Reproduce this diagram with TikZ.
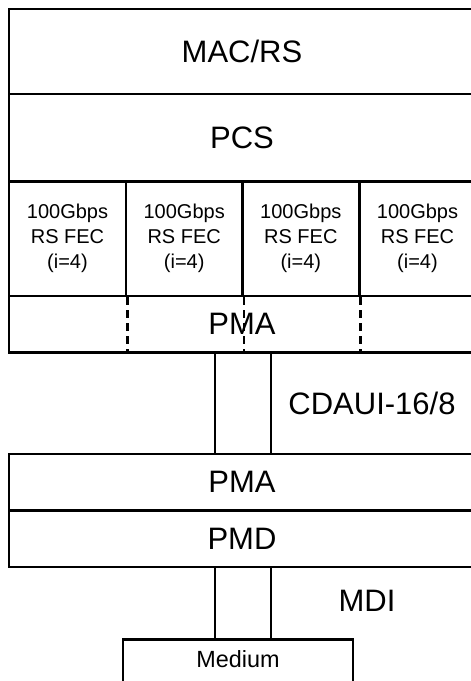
\documentclass[tikz,border=0pt]{standalone}
\usepackage{fontspec}
\setmainfont{Liberation Sans}
\usetikzlibrary{positioning, calc}

\begin{document}
\begin{tikzpicture}[
  x=0.5pt, y=-0.5pt,
  layer/.style={draw, line width=1.3pt, minimum width=233pt,
    inner sep=0pt, font=\fontsize{15.5}{18}\selectfont},
  fecbox/.style={draw, line width=1.3pt, minimum width=58.4pt,
    minimum height=57.25pt, inner sep=0pt, align=center,
    font=\fontsize{10}{12.5}\selectfont},
  link/.style={line width=1.3pt},
  split/.style={line width=1.3pt, dash pattern=on 4pt off 2.5pt},
  iflabel/.style={font=\fontsize{15.5}{18}\selectfont},
]

% ── Frame ────────────────────────────────────────────────
\useasboundingbox (0,0) rectangle (471,681);

% ── Upper stack ──────────────────────────────────────────
\node[layer, minimum height=42.5pt] (macrs) at (242,51.5) {MAC/RS};
\node[layer, minimum height=43.75pt] (pcs) at (242,137.75) {PCS};

% four FEC lanes
\foreach \i/\cx in {1/67.5, 2/184.2, 3/300.8, 4/417.5} {
  \node[fecbox] (fec\i) at (\cx,238.75) {100Gbps\\RS FEC\\(i=4)};
}

\node[layer, minimum height=28.25pt] (pmaup) at (242,324.25) {PMA};

% lane boundaries carried into the PMA
\foreach \i in {1,2,3} {
  \draw[split] (fec\i.south east) -- (fec\i.south east |- pmaup.south);
}

% ── Lower stack ──────────────────────────────────────────
\node[layer, minimum height=28.25pt] (pmalow) at (242,482.25) {PMA};
\node[layer, minimum height=28.25pt] (pmd) at (242,538.75) {PMD};

\node[draw, line width=1.3pt, minimum width=115pt, inner sep=0pt,
  text height=14pt, text depth=17pt, anchor=north,
  font=\fontsize{11.7}{14}\selectfont] (med) at (238,638) {Medium};

% ── Interfaces ───────────────────────────────────────────
\coordinate (la) at (215,0);
\coordinate (lb) at (271,0);

\draw[link] (pmaup.south -| la) -- (pmalow.north -| la);
\draw[link] (pmaup.south -| lb) -- (pmalow.north -| lb);
\draw[link] (pmd.south -| la) -- (med.north -| la);
\draw[link] (pmd.south -| lb) -- (med.north -| lb);

\node[iflabel] (cdaui) at (372,403) {CDAUI-16/8};
\node[iflabel] (mdi) at (367,601) {MDI};

\end{tikzpicture}
\end{document}
